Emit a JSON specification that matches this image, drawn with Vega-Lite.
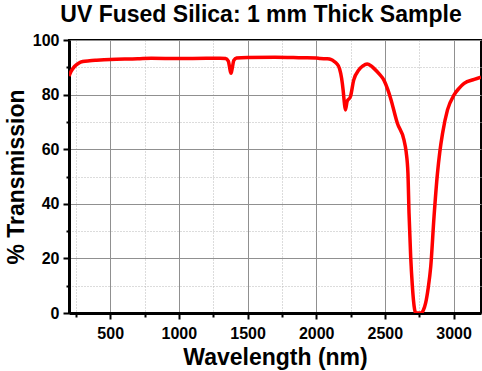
{
  "$schema": "https://vega.github.io/schema/vega-lite/v6.json",
  "autosize": "none",
  "width": 412,
  "height": 273,
  "padding": {"left": 69, "top": 40, "right": 1, "bottom": 58},
  "background": "white",
  "config": {
    "font": "Liberation Sans",
    "view": {"stroke": "black", "strokeWidth": 2}
  },
  "title": {
    "text": "UV Fused Silica: 1 mm Thick Sample",
    "font": "Liberation Sans",
    "fontSize": 23,
    "fontWeight": "bold",
    "color": "black",
    "anchor": "middle",
    "frame": "group",
    "baseline": "bottom",
    "offset": 12,
    "dx": -14,
    "dy": 30
  },
  "data": {
    "values": [
      {"wl": 200, "t": 86.8}, {"wl": 215, "t": 88.5}, {"wl": 240, "t": 90.3}, {"wl": 270, "t": 91.5},
      {"wl": 300, "t": 92.1}, {"wl": 350, "t": 92.4}, {"wl": 400, "t": 92.6}, {"wl": 500, "t": 92.9},
      {"wl": 700, "t": 93.1}, {"wl": 800, "t": 93.3}, {"wl": 1000, "t": 93.2}, {"wl": 1200, "t": 93.3},
      {"wl": 1300, "t": 93.3}, {"wl": 1340, "t": 93.2}, {"wl": 1360, "t": 92.3}, {"wl": 1375, "t": 88.5},
      {"wl": 1380, "t": 87.8}, {"wl": 1388, "t": 89.5}, {"wl": 1400, "t": 92.5}, {"wl": 1420, "t": 93.4},
      {"wl": 1500, "t": 93.6}, {"wl": 1700, "t": 93.7}, {"wl": 1900, "t": 93.5}, {"wl": 2000, "t": 93.4},
      {"wl": 2030, "t": 93.2}, {"wl": 2080, "t": 93.1}, {"wl": 2110, "t": 92.8}, {"wl": 2130, "t": 92.2},
      {"wl": 2150, "t": 91.3}, {"wl": 2170, "t": 89.5}, {"wl": 2185, "t": 86}, {"wl": 2196, "t": 81.7},
      {"wl": 2205, "t": 77}, {"wl": 2213, "t": 74.4}, {"wl": 2225, "t": 77.5}, {"wl": 2249, "t": 79.2},
      {"wl": 2273, "t": 85.3}, {"wl": 2310, "t": 89}, {"wl": 2340, "t": 90.5}, {"wl": 2371, "t": 91.2},
      {"wl": 2400, "t": 90.5}, {"wl": 2420, "t": 89.6}, {"wl": 2460, "t": 87.5}, {"wl": 2493, "t": 85.3},
      {"wl": 2520, "t": 82}, {"wl": 2542, "t": 78.6}, {"wl": 2591, "t": 69.5}, {"wl": 2639, "t": 63.4},
      {"wl": 2655, "t": 59}, {"wl": 2668, "t": 51.2}, {"wl": 2676, "t": 36.5}, {"wl": 2688, "t": 20.6},
      {"wl": 2700, "t": 10}, {"wl": 2708, "t": 4.8}, {"wl": 2725, "t": 0}, {"wl": 2761, "t": 0},
      {"wl": 2780, "t": 1}, {"wl": 2797, "t": 3.7}, {"wl": 2815, "t": 9}, {"wl": 2834, "t": 17},
      {"wl": 2858, "t": 35.3}, {"wl": 2883, "t": 51.2}, {"wl": 2900, "t": 59}, {"wl": 2920, "t": 65.8},
      {"wl": 2956, "t": 74.4}, {"wl": 3004, "t": 79.9}, {"wl": 3040, "t": 82.3}, {"wl": 3077, "t": 84.1},
      {"wl": 3151, "t": 85.6}, {"wl": 3200, "t": 86.4}
    ]
  },
  "resolve": {"axis": {"x": "independent", "y": "independent"}},
  "layer": [
    {
      "mark": {"type": "line", "opacity": 0},
      "encoding": {
        "x": {
          "field": "wl", "type": "quantitative",
          "scale": {"domain": [200, 3200], "nice": false, "zero": false},
          "axis": {
            "orient": "bottom", "values": [250, 750, 1250, 1750, 2250, 2750],
            "labels": false, "domain": false, "title": null,
            "grid": true, "gridColor": "#b8b8b8", "gridDash": [1, 2], "gridWidth": 1,
            "ticks": true, "tickSize": 4, "tickWidth": 2, "tickColor": "black"
          }
        },
        "y": {
          "field": "t", "type": "quantitative",
          "scale": {"domain": [0, 100], "nice": false},
          "axis": {
            "orient": "left", "values": [10, 30, 50, 70, 90],
            "labels": false, "domain": false, "title": null,
            "grid": true, "gridColor": "#b8b8b8", "gridDash": [1, 2], "gridWidth": 1,
            "ticks": true, "tickSize": 3, "tickWidth": 2, "tickColor": "black"
          }
        }
      }
    },
    {
      "mark": {"type": "line", "color": "#ff0000", "strokeWidth": 3.5, "interpolate": "monotone", "clip": true},
      "encoding": {
        "x": {
          "field": "wl", "type": "quantitative",
          "scale": {"domain": [200, 3200], "nice": false, "zero": false},
          "axis": {
            "orient": "bottom", "values": [500, 1000, 1500, 2000, 2500, 3000],
            "format": "d",
            "grid": true, "gridColor": "#909090", "gridWidth": 1,
            "domain": true, "domainColor": "black", "domainWidth": 3,
            "ticks": true, "tickSize": 6, "tickWidth": 2, "tickColor": "black",
            "labelFont": "Liberation Sans", "labelFontSize": 16, "labelFontWeight": "bold", "labelColor": "black",
            "labelPadding": 6,
            "title": "Wavelength (nm)",
            "titleFont": "Liberation Sans", "titleFontSize": 23, "titleFontWeight": "bold", "titleColor": "black",
            "titlePadding": 5
          }
        },
        "y": {
          "field": "t", "type": "quantitative",
          "scale": {"domain": [0, 100], "nice": false},
          "axis": {
            "orient": "left", "values": [0, 20, 40, 60, 80, 100],
            "grid": true, "gridColor": "#909090", "gridWidth": 1,
            "domain": true, "domainColor": "black", "domainWidth": 3,
            "ticks": true, "tickSize": 6, "tickWidth": 2, "tickColor": "black",
            "labelFont": "Liberation Sans", "labelFontSize": 16, "labelFontWeight": "bold", "labelColor": "black",
            "labelPadding": 4,
            "title": "% Transmission",
            "titleFont": "Liberation Sans", "titleFontSize": 23, "titleFontWeight": "bold", "titleColor": "black",
            "titlePadding": 4
          }
        }
      }
    }
  ]
}
